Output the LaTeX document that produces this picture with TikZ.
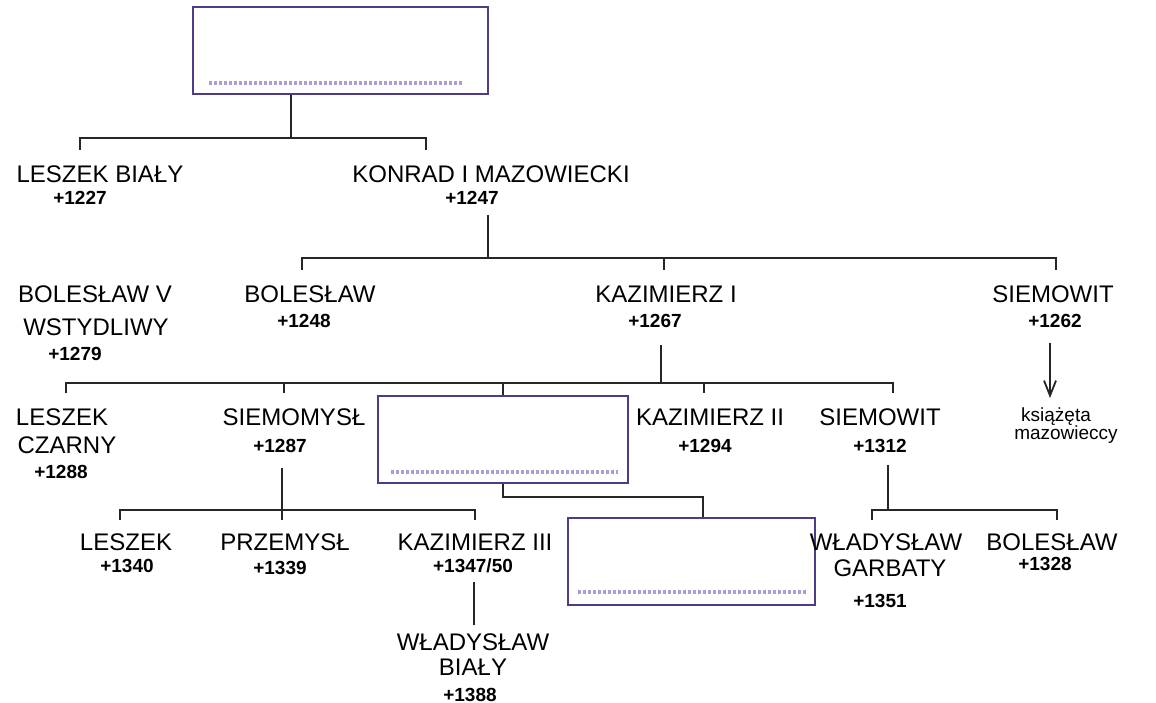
\documentclass[tikz,border=0pt]{standalone}
\usepackage{fontspec}
\setmainfont{Liberation Sans}
\usetikzlibrary{calc,arrows.meta}
\definecolor{boxpurple}{HTML}{4F3A8C}
\definecolor{dotpurple}{HTML}{A99ED6}
\begin{document}
\begin{tikzpicture}[x=1pt,y=-1pt,
  nm/.style={font=\fontsize{24}{28}\selectfont, inner sep=0pt, anchor=base},
  dt/.style={font=\fontsize{19}{22}\selectfont\bfseries, inner sep=0pt, anchor=base},
  sm/.style={font=\fontsize{19}{22}\selectfont, inner sep=0pt, anchor=base},
  tree/.style={draw=black!85, line width=1.7pt},
  framebox/.style={draw=boxpurple, line width=1.7pt, inner sep=0pt, fill=white},
  dots/.style={draw=dotpurple, line width=3.4pt, dash pattern=on 3pt off 2pt}]
\useasboundingbox (0,0) rectangle (1156,703);
\clip (0,0) rectangle (1156,703);

% ---------- boxes ----------
\node[framebox, minimum width=295pt, minimum height=87pt] (top) at (340.5,50.5) {};
\draw[dots] ($(top.south west)+(17,-12)$) -- ($(top.south east)+(-26,-12)$);

\node[framebox, minimum width=250pt, minimum height=87pt] (boxb) at (503,439.5) {};
\draw[dots] ($(boxb.south west)+(14,-12)$) -- ($(boxb.south east)+(-11,-12)$);

\node[framebox, minimum width=247pt, minimum height=87pt] (boxc) at (691.5,561.5) {};
\draw[dots] ($(boxc.south west)+(11,-14)$) -- ($(boxc.south east)+(-8,-14)$);

% ---------- generation 1 ----------
\node[nm] (leszekb) at (100,183) {LESZEK BIAŁY};
\node[dt] (leszekbd) at (80,205) {+1227};
\node[nm] (konrad) at (491,183) {KONRAD I MAZOWIECKI};
\node[dt] (konradd) at (472,205) {+1247};

% ---------- generation 2 ----------
\node[nm] (bolv1) at (95,302) {BOLESŁAW V};
\node[nm] (bolv2) at (96,335) {WSTYDLIWY};
\node[dt] (bolvd) at (75,360) {+1279};

\node[nm] (bol) at (310,302) {BOLESŁAW};
\node[dt] (bold) at (304,327) {+1248};
\node[nm] (kaz1) at (666,302) {KAZIMIERZ I};
\node[dt] (kaz1d) at (655,327) {+1267};
\node[nm] (siem) at (1053,302) {SIEMOWIT};
\node[dt] (siemd) at (1055,327) {+1262};

\node[sm] (ksi) at (1056,421) {książęta};
\node[sm] (maz) at (1066,439) {mazowieccy};

% ---------- generation 3 ----------
\node[nm] (lc1) at (62,425) {LESZEK};
\node[nm] (lc2) at (67,453) {CZARNY};
\node[dt] (lcd) at (61,478) {+1288};
\node[nm] (smy) at (294,425) {SIEMOMYSŁ};
\node[dt] (smyd) at (280,452) {+1287};
\node[nm] (kaz2) at (710,425) {KAZIMIERZ II};
\node[dt] (kaz2d) at (705,452) {+1294};
\node[nm] (siem2) at (880,425) {SIEMOWIT};
\node[dt] (siem2d) at (880,452) {+1312};

% ---------- generation 4 ----------
\node[nm] (les) at (126,550) {LESZEK};
\node[dt] (lesd) at (127,572) {+1340};
\node[nm] (prz) at (285,550) {PRZEMYSŁ};
\node[dt] (przd) at (280,574) {+1339};
\node[nm] (kaz3) at (475,550) {KAZIMIERZ III};
\node[dt] (kaz3d) at (473,572) {+1347/50};
\node[nm] (wg1) at (886,550) {WŁADYSŁAW};
\node[nm] (wg2) at (890,576) {GARBATY};
\node[dt] (wgd) at (880,607) {+1351};
\node[nm] (bol2) at (1052,550) {BOLESŁAW};
\node[dt] (bol2d) at (1045,570) {+1328};

% ---------- generation 5 ----------
\node[nm] (wb1) at (473,650) {WŁADYSŁAW};
\node[nm] (wb2) at (473,675) {BIAŁY};
\node[dt] (wbd) at (470,701) {+1388};

% ---------- connectors ----------
% top box -> gen 1
\coordinate (t1) at (291,138);
\coordinate (a1) at (80,138);
\coordinate (a2) at (426,138);
\draw[tree] (top.south -| t1) -- (t1);
\draw[tree] (a1) ++(0,12) -- (a1) -- (a2) -- ++(0,12);

% Konrad -> gen 2
\coordinate (k0) at (488,215);
\coordinate (k1) at (488,258);
\coordinate (c1) at (302,258);
\coordinate (c2) at (664,258);
\coordinate (c3) at (1056,258);
\draw[tree] (k0) -- (k1);
\draw[tree] (c1) ++(0,12) -- (c1) -- (c3) -- ++(0,12);
\draw[tree] (c2) -- ++(0,12);

% Siemowit -> ksiazeta mazowieccy
\coordinate (s0) at (1050,343);
\coordinate (s1) at (1050,398);
\draw[draw=black!85, line width=1.3pt, -{Straight Barb[length=15pt,width=12pt,line width=1.8pt]}] (s0) -- (s1);

% Kazimierz I -> gen 3
\coordinate (m0) at (661,345);
\coordinate (m1) at (661,383);
\coordinate (d1) at (66,383);
\coordinate (d2) at (284,383);
\coordinate (d3) at (503,383);
\coordinate (d4) at (704,383);
\coordinate (d5) at (893,383);
\draw[tree] (m0) -- (m1);
\draw[tree] (d1) ++(0,10) -- (d1) -- (d5) -- ++(0,10);
\draw[tree] (d2) -- ++(0,10);
\draw[tree] (d3) -- (boxb.north -| d3);
\draw[tree] (d4) -- ++(0,10);

% box b -> box c
\coordinate (e1) at (503,497);
\coordinate (e2) at (703,497);
\draw[tree] (boxb.south -| e1) -- (e1) -- (e2) -- (boxc.north -| e2);

% Siemomysl -> gen 4
\coordinate (f0) at (282,468);
\coordinate (f1) at (282,510);
\coordinate (g1) at (120,510);
\coordinate (g2) at (475,510);
\draw[tree] (f0) -- (f1);
\draw[tree] (g1) ++(0,10) -- (g1) -- (g2) -- ++(0,10);
\draw[tree] (f1) -- ++(0,10);

% Kazimierz III -> Wladyslaw Bialy
\coordinate (h0) at (474,582);
\coordinate (h1) at (474,625);
\draw[tree] (h0) -- (h1);

% Siemowit (gen 3) -> gen 4
\coordinate (i0) at (888,465);
\coordinate (i1) at (888,510);
\coordinate (j1) at (872,510);
\coordinate (j2) at (1057,510);
\draw[tree] (i0) -- (i1);
\draw[tree] (j1) ++(0,10) -- (j1) -- (j2) -- ++(0,10);
\end{tikzpicture}
\end{document}
